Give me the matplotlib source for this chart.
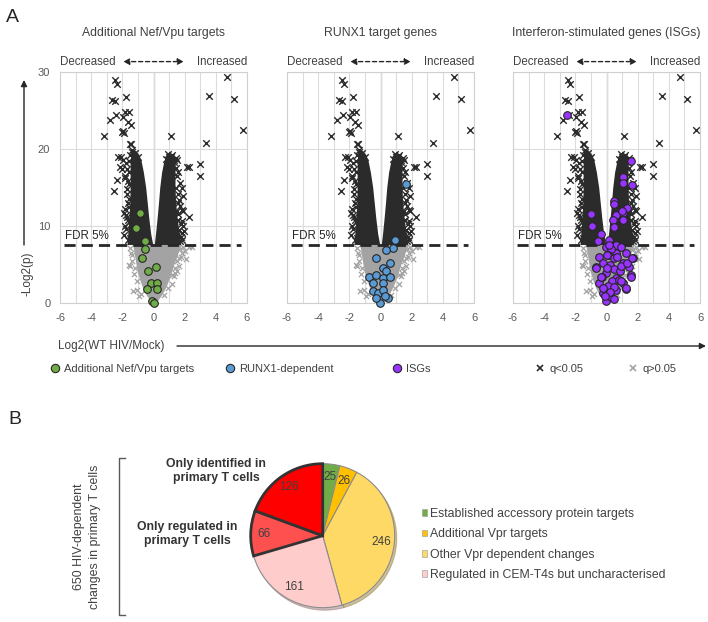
import matplotlib
matplotlib.use("Agg")
import matplotlib.pyplot as plt
from matplotlib.lines import Line2D
from matplotlib.patches import Patch

plt.rcParams['font.family'] = ['Liberation Sans', 'DejaVu Sans']
plt.rcParams['axes.unicode_minus'] = False

# --- Panel A: volcano data (same background in all three panels) ---
# scattered q<0.05 points
sig_x = [-2.50, -2.34, -2.67, -2.45, -1.76, -2.39, -2.82, -1.80, -1.55, -1.94, -1.63, -1.42,
         -2.02, -1.92, -1.97, -3.16, -1.42, 1.10, 3.35, 3.53, 4.71, 5.14, 5.72,
         0.99, 1.31, 2.28, 2.97, 2.97, -2.34, -2.56, -1.87, -1.74, -1.37, -2.13,
         1.85, 1.87, 1.85, 1.92, 2.28, 1.65, 1.80, 2.17, 1.53, 1.10, 1.31,
         -1.48, -1.37, -1.48, -1.30, -2.30, -2.10, -1.95, -1.75, -2.00, -1.60, -1.80,
         -1.55, -1.70, -1.60, -1.55, -1.60, -1.50, 1.50, 1.45, 1.60, 1.50, 1.55, 1.60,
         1.70, 1.45, 0.80, 1.00,
         -1.65, -1.75, -1.62, -1.80, -1.65, -1.72, -1.62, -1.85, -1.68, -1.55, -1.40,
         -1.20, -1.00, -1.10, 1.60, 1.75, 1.60, 1.70, 1.58, 1.70, 1.60, 1.45, 1.20,
         0.90, 1.75, 1.90,
         -1.90, -1.80, -1.70, 1.85, 1.95, 1.80, 1.65]
sig_y = [29.0, 28.4, 26.4, 26.2, 26.7, 24.4, 23.8, 24.8, 24.8, 24.2, 23.5, 23.1,
         22.2, 22.1, 22.3, 21.7, 20.6, 21.7, 20.8, 26.9, 29.3, 26.5, 22.5,
         18.9, 18.6, 17.6, 18.1, 16.5, 16.0, 14.5, 11.7, 11.4, 9.1, 17.7,
         14.9, 13.9, 12.1, 11.9, 11.2, 9.5, 9.1, 17.7, 18.6, 19.0, 18.3,
         20.7, 19.6, 19.2, 18.9, 18.9, 19.0, 18.6, 18.2, 17.4, 17.0, 16.5,
         15.5, 14.8, 13.5, 12.5, 10.5, 8.5, 16.5, 15.0, 13.0, 12.0, 10.8, 8.3,
         8.0, 17.5, 18.7, 17.8,
         8.2, 9.6, 10.8, 12.2, 13.0, 14.2, 15.8, 16.2, 17.4, 18.4, 19.9,
         19.5, 19.0, 18.7, 9.0, 10.2, 11.5, 12.6, 14.2, 15.6, 17.0, 18.8, 19.2,
         19.3, 8.6, 10.0,
         8.8, 10.0, 11.2, 8.2, 9.4, 10.6, 13.4]

# outline of the dense q<0.05 cloud (two arms of the V)
left_arm_y = [7.6, 9.0, 11.0, 13.0, 15.0, 17.0, 18.5, 19.3, 19.8]
left_arm_outer = [-1.70, -1.65, -1.58, -1.52, -1.50, -1.50, -1.50, -1.45, -1.35]
left_arm_inner = [-0.05, -0.18, -0.30, -0.40, -0.50, -0.65, -0.80, -0.95, -1.15]
right_arm_y = [7.6, 9.0, 11.0, 13.0, 15.0, 17.0, 18.3, 19.0, 19.4]
right_arm_inner = [0.05, 0.13, 0.23, 0.32, 0.40, 0.52, 0.65, 0.78, 0.95]
right_arm_outer = [1.75, 1.65, 1.52, 1.42, 1.38, 1.38, 1.40, 1.35, 1.20]

# outline of the q>0.05 cloud and its stray points
grey_env_y = [0.0, 1.0, 2.0, 3.0, 4.0, 5.0, 6.0, 7.0, 7.6]
grey_env_left = [-0.10, -0.45, -0.70, -0.88, -1.02, -1.12, -1.20, -1.28, -1.35]
grey_env_right = [0.15, 0.50, 0.78, 0.98, 1.15, 1.30, 1.50, 1.65, 1.80]
grey_x = [2.28, 1.63, 2.06, 1.63, 1.40, 1.30, -1.48, -1.20, -1.05, -1.33, 2.46, -1.60,
          1.80, 1.70, -1.40, 1.20, -0.90, 1.50,
          -1.50, -1.45, -1.35, 1.90, 2.00, 1.75, 1.50, 1.35, 1.20, -1.25, -1.05, 0.95,
          -0.80, 0.70]
grey_y = [7.3, 5.9, 5.75, 4.8, 3.9, 3.5, 4.8, 4.5, 1.7, 1.5, 7.3, 4.9,
          6.5, 7.0, 6.2, 2.5, 0.9, 4.2,
          7.2, 6.5, 5.5, 7.3, 6.8, 6.0, 5.5, 4.6, 3.7, 3.8, 2.8, 2.0,
          1.2, 1.0]

fdr_cut = 7.55

# highlighted genes
green_x = [-0.88, -1.12, -0.52, -0.56, -0.77, 0.13, -0.34, -0.19, 0.24, -0.41, 0.24, -0.08, 0.02]
green_y = [11.7, 9.8, 8.1, 7.0, 5.8, 4.7, 4.1, 2.6, 2.6, 1.8, 1.8, 0.2, 0.05]

blue_x = [1.65, 0.94, 0.79, 0.36, -0.32, 0.58, 0.15, 0.36, -0.71, -0.28, 0.15, 0.58,
          -0.51, 0.15, -0.51, -0.19, 0.15, 0.47, -0.06, -0.28, 0.30]
blue_y = [15.5, 8.2, 7.1, 6.9, 5.9, 5.2, 4.5, 4.1, 3.4, 3.6, 3.2, 3.4,
          2.6, 2.6, 1.5, 1.3, 1.7, 0.6, 0.05, 0.6, 0.9]

purple_x = [-2.51, 1.58, 1.04, 1.09, 1.64, 0.47, 1.34, 1.04, 0.62, 0.40, 1.09, 0.51,
            -0.98, -0.91, 0.19, 0.62, -0.02, -0.45, -0.24, -0.66, 0.62, 1.26, 1.68,
            1.04, 1.47, 1.58, 1.04, 1.26, 0.62, -0.02, -0.45, -0.24, -0.02, 0.30, 0.62,
            0.49, 1.02, 0.49, -0.36, -0.57, 0.30, 0.10, 0.45, 0.20, 0.50, 0.85, 0.00,
            -0.30, 0.35, 0.80, 0.10, 0.50, -0.20, 0.20, -0.10, 0.45, 0.90, 0.70,
            0.17, 0.91, 0.06, 1.34, 1.66, -0.68, -0.36, 1.55, 1.23, 0.91]
purple_y = [24.4, 18.4, 16.4, 15.6, 15.3, 13.2, 12.4, 11.7, 11.4, 10.8, 10.8, 9.7,
            11.5, 10.0, 8.2, 7.5, 7.3, 6.0, 5.2, 4.7, 6.5, 6.5, 5.8,
            5.2, 4.7, 3.6, 2.6, 1.8, 3.2, 3.9, 2.6, 1.3, 0.2, 0.8, 1.7,
            12.9, 11.9, 9.9, 9.0, 8.0, 7.0, 6.2, 5.8, 5.0, 4.4, 4.2, 4.6,
            3.4, 2.9, 3.0, 2.2, 2.1, 2.0, 1.4, 0.9, 0.5, 4.8, 6.0,
            7.5, 7.3, 6.2, 5.2, 5.8, 4.5, 3.4, 3.4, 1.9, 2.9]

panel_titles = ["Additional Nef/Vpu targets", "RUNX1 target genes",
                "Interferon-stimulated genes (ISGs)"]
highlight_sets = [(green_x, green_y, '#70AD47'), (blue_x, blue_y, '#5B9BD5'),
                  (purple_x, purple_y, '#9933FF')]

# --- Panel B: pie data ---
pie_vals = [25, 26, 246, 161, 66, 126]
pie_colors = ['#70AD47', '#FFC000', '#FFD966', '#FFCCCC', '#FF5050', '#FF0000']
pie_legend = ["Established accessory protein targets", "Additional Vpr targets",
              "Other Vpr dependent changes", "Regulated in CEM-T4s but uncharacterised"]

W, H = 708, 622
fig = plt.figure(figsize=(W / 100, H / 100), dpi=100)


def fx(px):
    return px / W


def fy(py):
    return 1 - py / H


text_c = '#404040'
dark = '#2b2b2b'
grey = '#a3a3a3'

# --- volcano panels ---
panel_lefts = [60, 287, 513]
panel_w = 187
top, bot = 72, 303
for i, left in enumerate(panel_lefts):
    ax = fig.add_axes([fx(left), fy(bot), panel_w / W, (bot - top) / H])
    ax.set_xlim(-6, 6)
    ax.set_ylim(0, 30)
    ax.set_xticks(range(-6, 7, 2))
    ax.set_xticks(range(-6, 7), minor=True)
    ax.set_yticks([0, 10, 20, 30])
    ax.grid(True, which='both', axis='x', color='#dcdcdc', lw=0.8, zorder=0)
    ax.grid(True, which='major', axis='y', color='#dcdcdc', lw=0.8, zorder=0)
    ax.set_axisbelow(True)
    ax.axvline(0, color='#a6a6a6', lw=0.9, zorder=0.5)
    ax.tick_params(which='both', length=0, labelsize=8, labelcolor='#595959', pad=7)
    if i > 0:
        ax.tick_params(labelleft=False)
    for s in ax.spines.values():
        s.set_color('#d0d0d0')

    # q>0.05 cloud
    ax.fill_betweenx(grey_env_y, grey_env_left, grey_env_right, color=grey, lw=0, zorder=1)
    ax.scatter(grey_x, grey_y, marker='x', s=14, c=grey, lw=0.9, zorder=1)
    # q<0.05 cloud
    ax.fill_betweenx(left_arm_y, left_arm_outer, left_arm_inner, color=dark, lw=0, zorder=2)
    ax.fill_betweenx(right_arm_y, right_arm_inner, right_arm_outer, color=dark, lw=0, zorder=2)
    ax.scatter(sig_x, sig_y, marker='x', s=22, c=dark, lw=1.0, zorder=2)

    ax.hlines(fdr_cut, -5.75, 5.6, colors='#262626', linestyles=(0, (4, 2.2)), lw=2, zorder=3)
    ax.text(-5.7, fdr_cut + 0.35, 'FDR 5%', fontsize=8.3, color='#262626', va='bottom', zorder=3)

    hx, hy, hc = highlight_sets[i]
    ax.scatter(hx, hy, s=30, c=hc, edgecolors='#262626', lw=0.8, zorder=4, clip_on=False)

    ax.text(0.5, 1.17, panel_titles[i], transform=ax.transAxes, ha='center', va='center',
            fontsize=8.8, color=text_c)
    ax.text(0, 1.045, 'Decreased', transform=ax.transAxes, ha='left', va='center',
            fontsize=8.3, color=text_c)
    ax.text(1, 1.045, 'Increased', transform=ax.transAxes, ha='right', va='center',
            fontsize=8.3, color=text_c)
    ax.annotate('', xy=(1.95, 1.045), xytext=(-1.95, 1.045),
                xycoords=('data', 'axes fraction'), textcoords=('data', 'axes fraction'),
                arrowprops=dict(arrowstyle='<|-|>', linestyle=(0, (3, 2)), color='#262626',
                                lw=1, mutation_scale=9, shrinkA=0, shrinkB=0),
                annotation_clip=False)

# axis labels with long arrows
fig.text(fx(28), fy(274), '-Log2(p)', rotation=90, ha='center', va='center',
         fontsize=8.5, color=text_c)
ax.annotate('', xy=(fx(24), fy(80)), xytext=(fx(24), fy(245)), xycoords='figure fraction',
            textcoords='figure fraction',
            arrowprops=dict(arrowstyle='-|>', color='#262626', lw=1, mutation_scale=9,
                            shrinkA=0, shrinkB=0), annotation_clip=False)
fig.text(fx(58), fy(346), 'Log2(WT HIV/Mock)', ha='left', va='center', fontsize=8.5, color=text_c)
ax.annotate('', xy=(fx(706), fy(346)), xytext=(fx(177), fy(346)), xycoords='figure fraction',
            textcoords='figure fraction',
            arrowprops=dict(arrowstyle='-|>', color='#262626', lw=1, mutation_scale=9,
                            shrinkA=0, shrinkB=0), annotation_clip=False)

# --- legend row for panel A ---
legend_items = [
    (Line2D([], [], ls='none', marker='o', ms=6, mfc='#70AD47', mec='#262626', mew=0.8), 'Additional Nef/Vpu targets', 55),
    (Line2D([], [], ls='none', marker='o', ms=6, mfc='#5B9BD5', mec='#262626', mew=0.8), 'RUNX1-dependent', 230),
    (Line2D([], [], ls='none', marker='o', ms=6, mfc='#9933FF', mec='#262626', mew=0.8), 'ISGs', 397),
    (Line2D([], [], ls='none', marker='x', ms=5, mec=dark, mew=1.2), 'q<0.05', 540),
    (Line2D([], [], ls='none', marker='x', ms=5, mec=grey, mew=1.2), 'q>0.05', 633),
]
for h, lab, px in legend_items:
    fig.legend(handles=[h], labels=[lab], loc='center left', bbox_to_anchor=(fx(px - 5), fy(369)),
               frameon=False, fontsize=8, handlelength=0.9, handletextpad=0.4, borderpad=0,
               borderaxespad=0, labelcolor=text_c)

# --- panel letters ---
fig.text(fx(12), fy(18), 'A', fontsize=14, ha='center', va='center', color='#262626')
fig.text(fx(15), fy(420), 'B', fontsize=14, ha='center', va='center', color='#262626')

# --- Panel B: pie ---
cx, cy, r = 322.7, 535.7, 72
pax = fig.add_axes([fx(cx - 80), fy(cy + 80), 160 / W, 160 / H])
total = sum(pie_vals)
wedges, _, autotexts = pax.pie(
    pie_vals, colors=pie_colors, startangle=90, counterclock=False,
    wedgeprops=dict(edgecolor='#8c8c8c', lw=0.8),
    autopct=lambda p: f"{round(p * total / 100)}", pctdistance=0.82,
    textprops=dict(fontsize=8.5, color=text_c),
    shadow=dict(ox=0.02, oy=-0.025, shade=0.4, alpha=0.5))
for w in wedges[4:]:
    w.set_edgecolor('#333333')
    w.set_linewidth(2)
    w.set_zorder(3)
for t in autotexts:
    t.set_zorder(5)
pax.set_xlim(-80 / r, 80 / r)
pax.set_ylim(-80 / r, 80 / r)
pax.set_aspect('equal')

fig.text(fx(216), fy(471), 'Only identified in\nprimary T cells', ha='center', va='center',
         fontsize=8.8, fontweight='bold', color='#333333', linespacing=1.15)
fig.text(fx(187.5), fy(534), 'Only regulated in\nprimary T cells', ha='center', va='center',
         fontsize=8.8, fontweight='bold', color='#333333', linespacing=1.15)

# bracket and side label
fig.add_artist(Line2D([fx(125), fx(118.5), fx(118.5), fx(125)],
                      [fy(458), fy(458), fy(615), fy(615)], color='#595959', lw=1))
fig.text(fx(87), fy(537), '650 HIV-dependent\nchanges in primary T cells', rotation=90,
         ha='center', va='center', fontsize=8.9, color=text_c, linespacing=1.4)

# pie legend
handles = [Patch(facecolor=c, edgecolor='#a6a6a6', lw=0.5) for c in pie_colors[:4]]
fig.legend(handles=handles, labels=pie_legend, loc='upper left',
           bbox_to_anchor=(fx(421.7), fy(508)), frameon=False, fontsize=8.8,
           handlelength=0.45, handleheight=0.45, handletextpad=0.25, labelspacing=0.68,
           borderpad=0, borderaxespad=0, labelcolor=text_c)

fig.savefig('out.png', dpi=100)
